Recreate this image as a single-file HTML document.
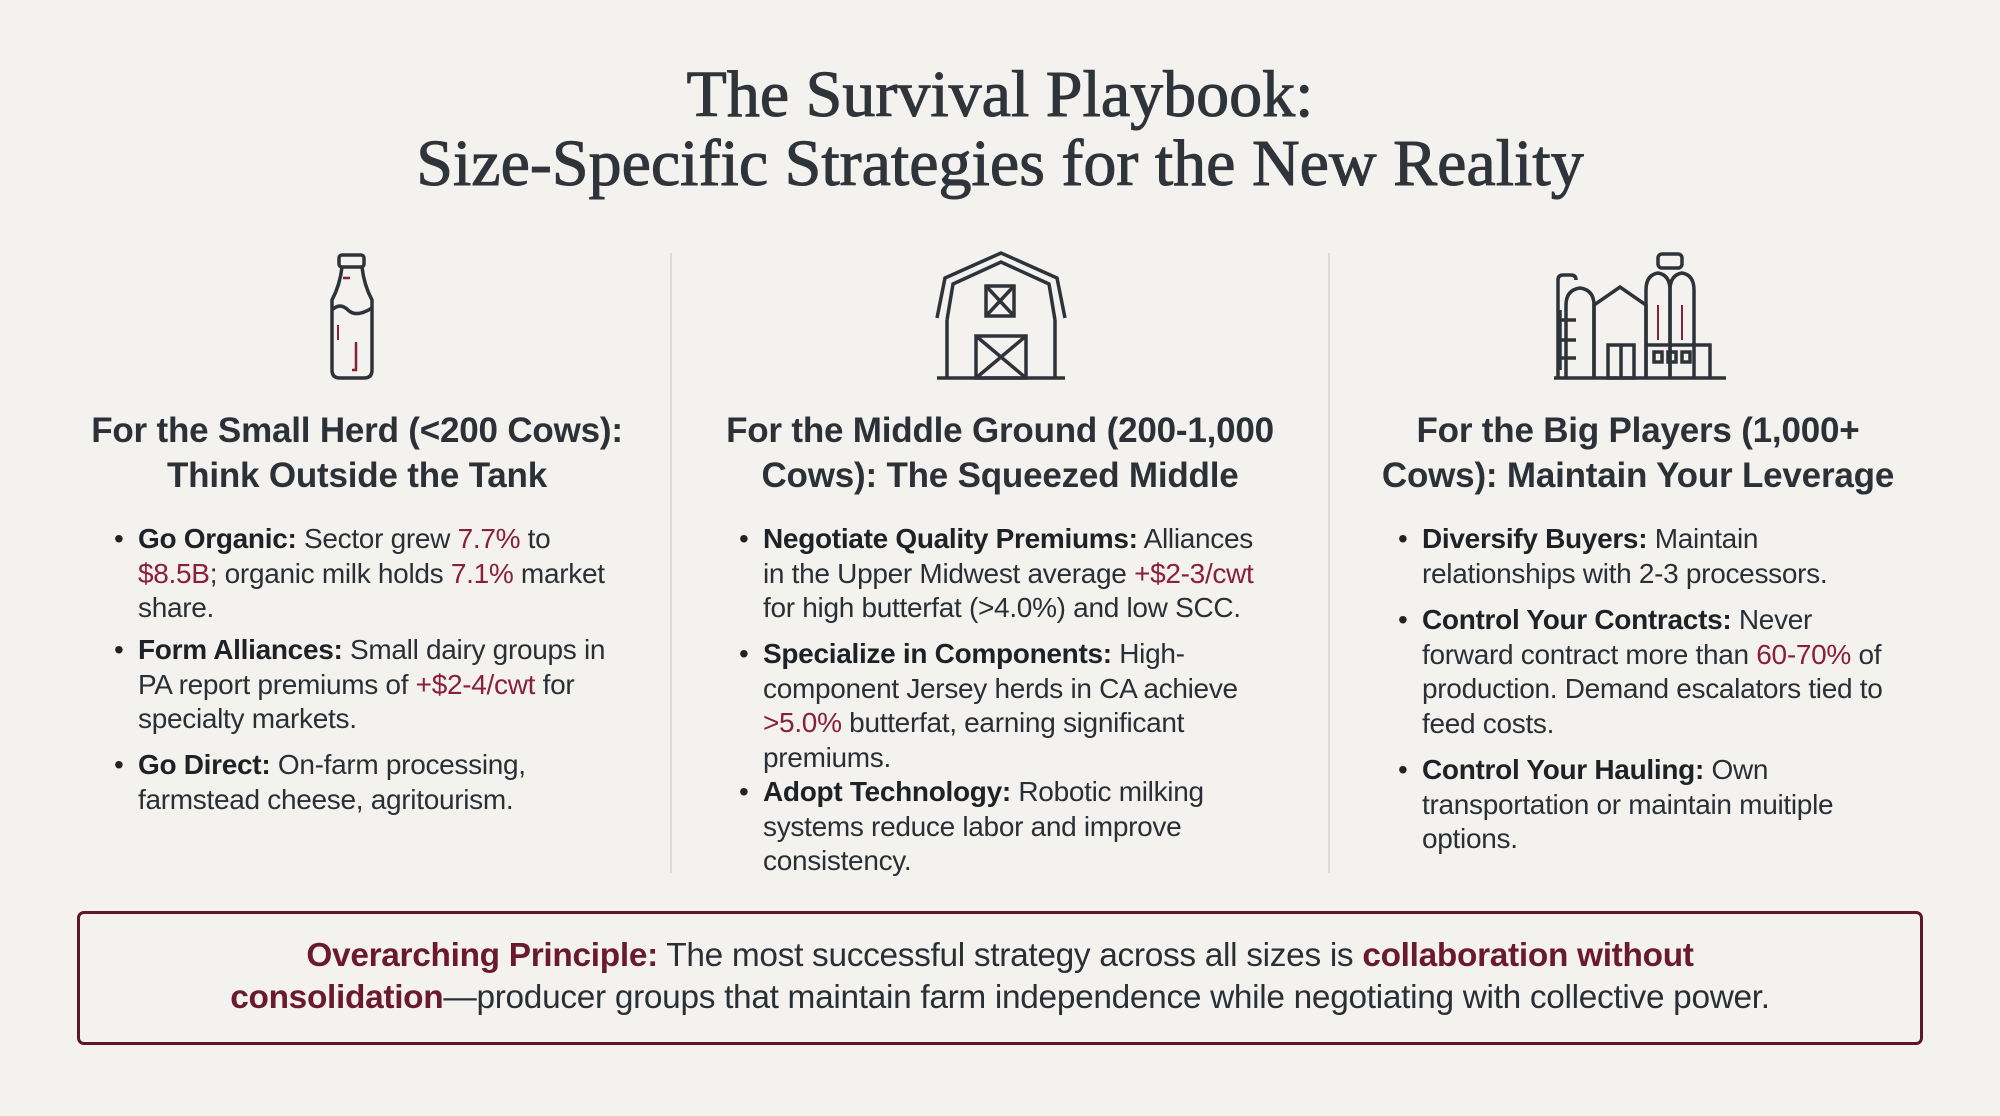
<!DOCTYPE html>
<html><head><meta charset="utf-8">
<style>
html,body{margin:0;padding:0}
body{width:2000px;height:1116px;background:#f3f2ee;position:relative;overflow:hidden;font-family:"Liberation Sans",sans-serif;color:#2a2e35}
.t{position:absolute;left:0;width:2000px;text-align:center;font-family:"Liberation Serif",serif;font-size:66px;font-weight:normal;-webkit-text-stroke:1px #2f343b;color:#2f343b;white-space:nowrap}
.div{position:absolute;top:253px;width:2px;height:620px;background:#dddcd7}
.h{position:absolute;width:640px;text-align:center;font-size:35px;font-weight:bold;line-height:45px;color:#2c3037;white-space:nowrap;letter-spacing:-0.2px}
.b{position:absolute;font-size:28px;line-height:34.5px;white-space:nowrap;color:#2a2e35;letter-spacing:-0.3px}
.b::before{content:"•";position:absolute;left:-24px;top:0;color:#222}
.b b{color:#1e2126}
.r{color:#8a1f3a}
.box{position:absolute;left:77px;top:911px;width:1840px;height:128px;border:3px solid #5e1628;border-radius:7px}
.ft{position:absolute;left:0;top:935px;width:2000px;text-align:center;font-size:33.4px;line-height:42px;white-space:nowrap;color:#2a2e35;letter-spacing:-0.3px}
.ft b{color:#6b1a2e}
svg{position:absolute}
</style></head><body>
<div class="t" style="top:57px">The Survival Playbook:</div>
<div class="t" style="top:126px">Size-Specific Strategies for the New Reality</div>

<div class="div" style="left:670px"></div>
<div class="div" style="left:1328px"></div>

<svg style="left:320px;top:250px" width="80" height="132" viewBox="0 0 80 132" fill="none" stroke="#2e333a" stroke-width="3.5">
<rect x="19" y="5" width="25" height="12" rx="3"/>
<path d="M22 17 Q20 35 12 50 L12 120 Q12 128 20 128 L44 128 Q52 128 52 120 L52 50 Q44 35 42 17"/>
<path d="M12 60 Q20 52 28 60 Q36 68 52 58"/>
<path d="M23 28 L30 28" stroke="#8a1f3a" stroke-width="2.5"/>
<path d="M18 75 L18 90" stroke="#8a1f3a" stroke-width="2"/>
<path d="M36 92 L36 120 L32 120" stroke="#8a1f3a" stroke-width="2.5"/>
</svg>
<svg style="left:935px;top:250px" width="132" height="132" viewBox="0 0 132 132" fill="none" stroke="#2e333a" stroke-width="3.5">
<path d="M2 68 L10 28 L66 3 L122 28 L130 68"/>
<path d="M12 70 L18 34 L66 12 L114 34 L120 70"/>
<path d="M12 70 L12 128 M120 70 L120 128"/>
<path d="M2 128 L130 128"/>
<rect x="51" y="36" width="28" height="30"/>
<path d="M51 36 L79 66 M79 36 L51 66"/>
<rect x="41" y="86" width="50" height="42"/>
<path d="M41 86 L91 128 M91 86 L41 128"/>
</svg>
<svg style="left:1550px;top:250px" width="180" height="132" viewBox="0 0 180 132" fill="none" stroke="#2e333a" stroke-width="3.5">
<path d="M4 128 L176 128"/>
<path d="M8 128 L8 30 Q8 25 13 25 L21 25 Q26 25 26 30"/>
<path d="M10 60 L10 120 M10 70 L26 70 M10 90 L26 90 M10 108 L26 108"/>
<path d="M16 128 L16 55 Q16 40 30 38 Q44 40 44 55 L44 128"/>
<path d="M44 128 L44 55 L70 37 L96 55 L96 128"/>
<rect x="58" y="95" width="26" height="33"/>
<path d="M71 95 L71 128"/>
<path d="M96 128 L96 40 Q96 25 108 23 Q120 25 120 40 L120 128"/>
<path d="M120 128 L120 40 Q120 25 132 23 Q144 25 144 40 L144 128"/>
<rect x="108" y="4" width="24" height="14" rx="4"/>
<path d="M96 95 L160 95 L160 128"/>
<rect x="104" y="102" width="8" height="10"/>
<rect x="118" y="102" width="8" height="10"/>
<rect x="132" y="102" width="8" height="10"/>
<path d="M108 55 L108 90 M132 55 L132 90" stroke="#8a1f3a" stroke-width="2"/>
</svg>

<div class="h" style="left:37px;top:408px">For the Small Herd (&lt;200 Cows):<br>Think Outside the Tank</div>
<div class="h" style="left:680px;top:408px">For the Middle Ground (200-1,000<br>Cows): The Squeezed Middle</div>
<div class="h" style="left:1318px;top:408px">For the Big Players (1,000+<br>Cows): Maintain Your Leverage</div>

<div class="b" style="left:138px;top:522px"><b>Go Organic:</b> Sector grew <span class="r">7.7%</span> to<br><span class="r">$8.5B</span>; organic milk holds <span class="r">7.1%</span> market<br>share.</div>
<div class="b" style="left:138px;top:633px"><b>Form Alliances:</b> Small dairy groups in<br>PA report premiums of <span class="r">+$2-4/cwt</span> for<br>specialty markets.</div>
<div class="b" style="left:138px;top:748px"><b>Go Direct:</b> On-farm processing,<br>farmstead cheese, agritourism.</div>

<div class="b" style="left:763px;top:522px"><b>Negotiate Quality Premiums:</b> Alliances<br>in the Upper Midwest average <span class="r">+$2-3/cwt</span><br>for high butterfat (&gt;4.0%) and low SCC.</div>
<div class="b" style="left:763px;top:637px"><b>Specialize in Components:</b> High-<br>component Jersey herds in CA achieve<br><span class="r">&gt;5.0%</span> butterfat, earning significant<br>premiums.</div>
<div class="b" style="left:763px;top:775px"><b>Adopt Technology:</b> Robotic milking<br>systems reduce labor and improve<br>consistency.</div>

<div class="b" style="left:1422px;top:522px"><b>Diversify Buyers:</b> Maintain<br>relationships with 2-3 processors.</div>
<div class="b" style="left:1422px;top:603px"><b>Control Your Contracts:</b> Never<br>forward contract more than <span class="r">60-70%</span> of<br>production. Demand escalators tied to<br>feed costs.</div>
<div class="b" style="left:1422px;top:753px"><b>Control Your Hauling:</b> Own<br>transportation or maintain muitiple<br>options.</div>

<div class="box"></div>
<div class="ft"><b>Overarching Principle:</b> The most successful strategy across all sizes is <b>collaboration without</b><br><b>consolidation</b>—producer groups that maintain farm independence while negotiating with collective power.</div>
</body></html>
